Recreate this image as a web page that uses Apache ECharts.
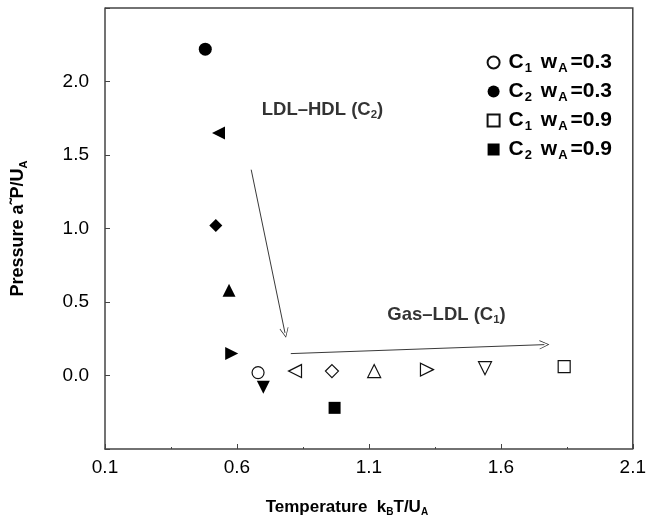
<!DOCTYPE html>
<html>
<head>
<meta charset="utf-8">
<script src="https://cdn.jsdelivr.net/npm/echarts@6/dist/echarts.min.js"></script>
<style>
  html, body { margin: 0; padding: 0; background: #fff; }
  #chart { width: 649px; height: 525px; }
</style>
</head>
<body>
<div id="chart"></div>
<script>
// Critical points of the two transitions for each composition w_A
const wA = [0.3, 0.4, 0.5, 0.6, 0.7, 0.8, 0.9];
const shapes = ['circle', 'triangle', 'diamond', 'triangle', 'triangle', 'triangle', 'rect'];
const rotations = [0, 90, 0, 0, -90, 180, 0];
// C1: gas-LDL critical points (open symbols)
const c1T = [0.68, 0.82, 0.96, 1.12, 1.32, 1.54, 1.84];
const c1P = [0.02, 0.03, 0.03, 0.03, 0.04, 0.05, 0.06];
// C2: LDL-HDL critical points (filled symbols)
const c2T = [0.48, 0.53, 0.52, 0.57, 0.58, 0.70, 0.97];
const c2P = [2.22, 1.65, 1.02, 0.58, 0.15, -0.08, -0.22];

const xTicks = [0.1, 0.6, 1.1, 1.6, 2.1];
const yTicks = [0.0, 0.5, 1.0, 1.5, 2.0];

// Trend arrows and their captions
const arrowC2 = [[0.654, 1.40], [0.782, 0.29]];
const arrowC1 = [[0.804, 0.149], [1.765, 0.21]];
const captionC2 = [0.692, 1.81];
const captionC1 = [1.168, 0.415];

const fontFamily = 'Liberation Sans, Arial, sans-serif';
const openArrow = 'path://M0,0 L6,14 L5.2,14.4 L0,2.2 L-5.2,14.4 L-6,14 Z';

function legendName(c, w) {
  return 'C' + c + ' wA=' + w.toFixed(1);
}

const series = [];
wA.forEach(function (w, i) {
  const inLegend = (i === 0 || i === wA.length - 1);
  series.push({
    type: 'scatter',
    name: inLegend ? legendName(1, w) : 'C1 ' + w,
    symbol: shapes[i],
    symbolRotate: rotations[i],
    symbolSize: shapes[i] === 'rect' ? 12 : (shapes[i] === 'circle' ? 12 : 13),
    itemStyle: { color: '#fff', borderColor: '#111', borderWidth: 1.2, opacity: 1 },
    data: [[c1T[i], c1P[i]]],
    z: 3
  });
  series.push({
    type: 'scatter',
    name: inLegend ? legendName(2, w) : 'C2 ' + w,
    symbol: shapes[i],
    symbolRotate: rotations[i],
    symbolSize: shapes[i] === 'rect' ? 12 : 13,
    itemStyle: { color: '#000', borderColor: '#000', borderWidth: 0, opacity: 1 },
    data: [[c2T[i], c2P[i]]],
    z: 3
  });
});

const captionRich = {
  b: { fontFamily: fontFamily, fontWeight: 'bold', fontSize: 18.5, color: '#000' },
  s: { fontFamily: fontFamily, fontWeight: 'bold', fontSize: 11.5, color: '#000', verticalAlign: 'bottom', padding: [11, 0, 0, 0] }
};

// Arrows, carried by an empty helper series
series.push({
  type: 'scatter',
  name: 'arrows',
  data: [],
  silent: true,
  markLine: {
    silent: true,
    symbol: ['none', openArrow],
    symbolSize: [9, 10],
    label: { show: false },
    lineStyle: { color: '#222', width: 0.9, type: 'solid' },
    emphasis: { disabled: true },
    data: [
      [{ coord: arrowC2[0] }, { coord: arrowC2[1] }],
      [{ coord: arrowC1[0] }, { coord: arrowC1[1] }]
    ]
  }
});

// Captions of the two arrows
series.push({
  type: 'scatter',
  name: 'captions',
  silent: true,
  symbolSize: 1,
  itemStyle: { color: 'rgba(0,0,0,0)', borderWidth: 0 },
  label: {
    show: true,
    position: 'right',
    distance: 0,
    color: '#000',
    rich: captionRich
  },
  data: [
    { value: captionC2, label: { formatter: '{b|LDL–HDL (C}{s|2}{b|)}' } },
    { value: captionC1, label: { formatter: '{b|Gas–LDL (C}{s|1}{b|)}' } }
  ],
  z: 4
});

const chart = echarts.init(document.getElementById('chart'), null, { renderer: 'canvas' });
chart.setOption({
  animation: false,
  backgroundColor: '#fff',
  grid: { left: 105, right: 13, top: 8, bottom: 76, show: false },
  legend: {
    data: [legendName(1, 0.3), legendName(2, 0.3), legendName(1, 0.9), legendName(2, 0.9)],
    orient: 'vertical',
    right: 32,
    top: 47,
    itemGap: 6,
    itemWidth: 12,
    itemHeight: 12,
    selectedMode: false,
    formatter: function (name) {
      const m = name.match(/^C(\d) wA=(.*)$/);
      return '{c|C}{s|' + m[1] + '}{t| w}{s|A}{t|=' + m[2] + '}';
    },
    textStyle: {
      rich: {
        c: { fontFamily: fontFamily, fontWeight: 'bold', fontSize: 21, color: '#000', padding: [0, 0, 0, 4] },
        t: { fontFamily: fontFamily, fontWeight: 'bold', fontSize: 21, color: '#000' },
        s: { fontFamily: fontFamily, fontWeight: 'bold', fontSize: 13, color: '#000', verticalAlign: 'bottom', padding: [12, 3, 0, 1] }
      }
    }
  },
  xAxis: {
    type: 'value',
    min: xTicks[0],
    max: xTicks[xTicks.length - 1],
    interval: 0.5,
    name: '{t|Temperature  k}{s|B}{t|T/U}{s|A}',
    nameLocation: 'middle',
    nameGap: 48,
    nameTextStyle: {
      padding: [0, 44, 0, 0],
      rich: {
        t: { fontFamily: fontFamily, fontWeight: 'bold', fontSize: 17, color: '#000' },
        s: { fontFamily: fontFamily, fontWeight: 'bold', fontSize: 10, color: '#000', verticalAlign: 'bottom', padding: [10, 0, 0, 0] }
      }
    },
    axisLine: { show: true, onZero: false, lineStyle: { color: '#444', width: 1.5 } },
    axisTick: { show: true, inside: true, length: 5, lineStyle: { color: '#444', width: 1 } },
    minorTick: { show: true, splitNumber: 2, length: 2, lineStyle: { color: '#444', width: 1 } },
    splitLine: { show: false },
    axisLabel: {
      margin: 9,
      fontFamily: fontFamily,
      fontSize: 19,
      color: '#000',
      formatter: function (v) { return v.toFixed(1); }
    }
  },
  yAxis: {
    type: 'value',
    min: -0.5,
    max: 2.5,
    interval: 0.5,
    name: '{t|Pressure a˜P/U}{s|A}',
    nameLocation: 'middle',
    nameGap: 76,
    nameRotate: 90,
    nameTextStyle: {
      rich: {
        t: { fontFamily: fontFamily, fontWeight: 'bold', fontSize: 18, color: '#000' },
        s: { fontFamily: fontFamily, fontWeight: 'bold', fontSize: 11, color: '#000', verticalAlign: 'bottom', padding: [10, 0, 0, 0] }
      }
    },
    axisLine: { show: true, onZero: false, lineStyle: { color: '#444', width: 1.5 } },
    axisTick: { show: true, inside: true, length: 5, lineStyle: { color: '#444', width: 1 } },
    splitLine: { show: false },
    axisLabel: {
      margin: 16,
      fontFamily: fontFamily,
      fontSize: 19,
      color: '#000',
      formatter: function (v) {
        return yTicks.some(function (t) { return Math.abs(t - v) < 1e-9; }) ? v.toFixed(1) : '';
      }
    }
  },
  series: series
});

// Frame along the top and right edges of the plotting area
(function addFrame() {
  const tl = chart.convertToPixel({ gridIndex: 0 }, [xTicks[0], 2.5]);
  const br = chart.convertToPixel({ gridIndex: 0 }, [xTicks[xTicks.length - 1], -0.5]);
  chart.setOption({
    graphic: [{
      type: 'polyline',
      silent: true,
      shape: { points: [[tl[0], tl[1]], [br[0], tl[1]], [br[0], br[1]]] },
      style: { stroke: '#444', lineWidth: 1.5, fill: null },
      z: 10
    }]
  });
})();
</script>
</body>
</html>
